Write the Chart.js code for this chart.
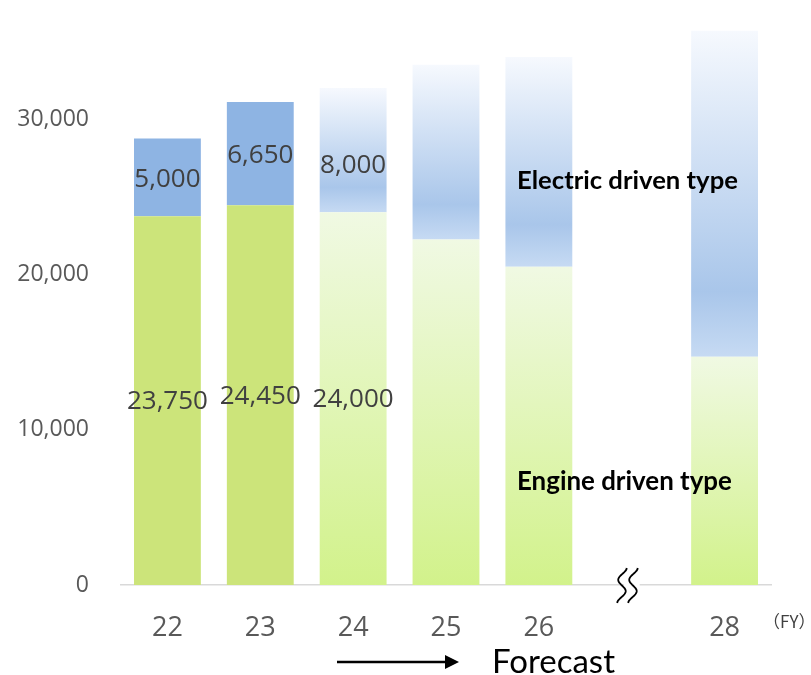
<!DOCTYPE html>
<html>
<head>
<meta charset="utf-8">
<script src="https://cdn.jsdelivr.net/npm/chart.js@4/dist/chart.umd.min.js"></script>
<style>
  html, body { margin: 0; padding: 0; background: #ffffff; }
  #wrap { width: 811px; height: 675px; position: relative; }
</style>
</head>
<body>
<div id="wrap"><canvas id="c" width="811" height="675"></canvas></div>
<script>
// Fiscal years (the blank slot holds the axis break between FY26 and FY28)
const years = ['22', '23', '24', '25', '26', '', '28'];
// Units by drive type
const engineDriven = [23750, 24450, 24000, 22250, 20500, null, 14700];
const electricDriven = [5000, 6650, 8000, 11250, 13500, null, 21000];
// Results (solid) versus forecast (gradient)
const actualYears = 2;
// Only these leading bars carry value labels
const labelledYears = 3;
const yTicks = [0, 10000, 20000, 30000];

const numberFont = "'Open Sans', 'Noto Sans', sans-serif";
const captionFont = "Lato, 'Open Sans', sans-serif";

function segmentGradient(chart, from, to, stops) {
  const y = chart.scales.y;
  const top = y.getPixelForValue(to);
  const bottom = y.getPixelForValue(from);
  const g = chart.ctx.createLinearGradient(0, top, 0, bottom);
  stops.forEach(s => g.addColorStop(s[0], s[1]));
  return g;
}

function engineColor(ctx) {
  const i = ctx.dataIndex;
  if (i < actualYears) return '#cce47a';
  const chart = ctx.chart;
  if (!chart.scales || !chart.scales.y || engineDriven[i] == null) return '#e2f5bd';
  return segmentGradient(chart, 0, engineDriven[i], [[0, '#f0f9e3'], [1, '#d2f28b']]);
}

function electricColor(ctx) {
  const i = ctx.dataIndex;
  if (i < actualYears) return '#8eb4e3';
  const chart = ctx.chart;
  if (!chart.scales || !chart.scales.y || electricDriven[i] == null) return '#c6daf2';
  const base = engineDriven[i];
  return segmentGradient(chart, base, base + electricDriven[i],
    [[0, '#f6f9fe'], [0.8, '#a9c6ea'], [1, '#c6daf3']]);
}

// Value labels centred inside the first bars' segments
const valueLabels = {
  id: 'valueLabels',
  afterDatasetsDraw(chart) {
    const ctx = chart.ctx;
    const nudge = [[1, 1, 1], [2, 2, 15]];
    ctx.save();
    ctx.font = "26px " + numberFont;
    ctx.fillStyle = '#404040';
    ctx.textAlign = 'center';
    ctx.textBaseline = 'middle';
    chart.data.datasets.forEach((ds, d) => {
      const meta = chart.getDatasetMeta(d);
      for (let i = 0; i < labelledYears; i++) {
        const el = meta.data[i];
        const v = ds.data[i];
        if (!el || v == null) continue;
        const cy = (el.y + el.base) / 2 + nudge[d][i];
        ctx.fillText(v.toLocaleString('en-US'), el.x, cy);
      }
    });
    ctx.restore();
  }
};

// Bold caption sized so that it spans the given width
function fitCaption(ctx, text, x, y, width) {
  ctx.font = "bold 20px " + captionFont;
  const size = 20 * width / ctx.measureText(text).width;
  ctx.font = "bold " + size.toFixed(2) + "px " + captionFont;
  ctx.fillText(text, x, y);
}

// Captions, fiscal-year unit, forecast arrow and the axis break mark
const decorations = {
  id: 'decorations',
  afterDraw(chart) {
    const ctx = chart.ctx;
    const x = chart.scales.x;
    const area = chart.chartArea;
    ctx.save();

    ctx.fillStyle = '#000000';
    ctx.textAlign = 'left';
    ctx.textBaseline = 'alphabetic';
    fitCaption(ctx, 'Electric driven type', 517, 189, 221);
    fitCaption(ctx, 'Engine driven type', 517, 490, 215);

    ctx.font = "33px " + captionFont;
    ctx.fillText('Forecast', 492, 673);

    ctx.fillStyle = '#404040';
    ctx.font = "17px 'Noto Sans CJK JP', sans-serif";
    ctx.textBaseline = 'middle';
    ctx.fillText('（FY）', 763, 622);

    // forecast arrow
    ctx.strokeStyle = '#000000';
    ctx.fillStyle = '#000000';
    ctx.lineWidth = 2.5;
    ctx.beginPath();
    ctx.moveTo(337, 662);
    ctx.lineTo(447, 662);
    ctx.stroke();
    ctx.beginPath();
    ctx.moveTo(445, 655);
    ctx.lineTo(459, 662);
    ctx.lineTo(445, 669);
    ctx.closePath();
    ctx.fill();

    // axis break between FY26 and FY28
    const cx = x.getPixelForValue(5);
    const by = area.bottom;
    ctx.fillStyle = '#ffffff';
    ctx.fillRect(cx - 8, by - 3, 16, 6);
    ctx.strokeStyle = '#000000';
    ctx.lineWidth = 1.8;
    [cx - 9, cx + 2].forEach(x0 => {
      ctx.beginPath();
      const h = 35, top = by - 17;
      for (let k = 0; k <= 40; k++) {
        const t = k / 40;
        const px = x0 + 4 * Math.cos(3 * Math.PI * t) - 1.5 * t;
        const py = top + h * t;
        if (k === 0) ctx.moveTo(px, py); else ctx.lineTo(px, py);
      }
      ctx.stroke();
    });
    ctx.restore();
  }
};

new Chart(document.getElementById('c'), {
  type: 'bar',
  data: {
    labels: years,
    datasets: [
      {
        label: 'Engine driven type',
        data: engineDriven,
        backgroundColor: engineColor,
        borderWidth: 0
      },
      {
        label: 'Electric driven type',
        data: electricDriven,
        backgroundColor: electricColor,
        borderWidth: 0
      }
    ]
  },
  options: {
    responsive: false,
    animation: false,
    devicePixelRatio: 1,
    layout: { padding: { top: 26, right: 40, bottom: 0, left: 0 } },
    datasets: { bar: { categoryPercentage: 1, barPercentage: 0.72 } },
    plugins: {
      legend: { display: false },
      tooltip: { enabled: false }
    },
    scales: {
      x: {
        stacked: true,
        grid: { display: false, drawTicks: false },
        border: { display: true, color: '#d9d9d9', width: 1.5 },
        ticks: {
          color: '#595959',
          font: { family: numberFont, size: 27 },
          padding: 27,
          maxRotation: 0,
          autoSkip: false
        },
        afterFit(scale) { scale.height = 90; }
      },
      y: {
        stacked: true,
        min: 0,
        max: 36000,
        grid: { display: false, drawTicks: false },
        border: { display: false },
        ticks: {
          color: '#595959',
          font: { family: numberFont, size: 23 },
          padding: 32,
          callback: v => v.toLocaleString('en-US')
        },
        afterBuildTicks(scale) {
          scale.ticks = yTicks.map(v => ({ value: v }));
        },
        afterFit(scale) {
          scale.width = 121;
          scale.paddingTop = 0;
          scale.paddingBottom = 0;
        }
      }
    }
  },
  plugins: [valueLabels, decorations]
});
</script>
</body>
</html>
